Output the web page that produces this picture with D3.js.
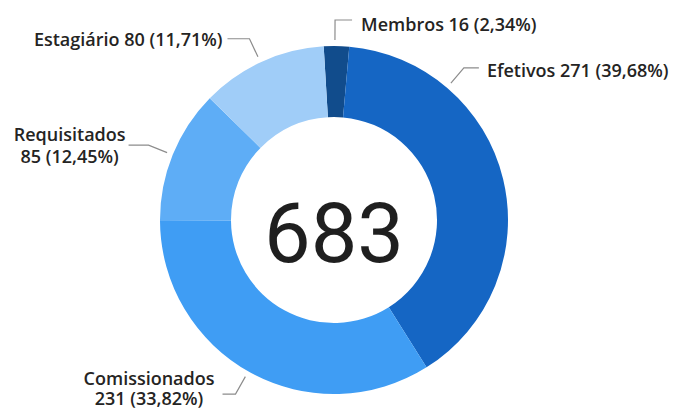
<!DOCTYPE html>
<html>
<head>
<meta charset="utf-8">
<script src="https://cdn.jsdelivr.net/npm/d3@7"></script>
<style>
  body { margin: 0; background: #fff; }
  .lbl { font-family: "Segoe UI", "Open Sans", sans-serif; font-weight: 600; font-size: 18px; fill: #252423; }
  .total { font-family: Roboto, sans-serif; font-weight: 400; font-size: 83px; fill: #1f1f1f; }
</style>
</head>
<body>
<svg id="chart" width="681" height="415"></svg>
<script>
// Data
var categories = ["Membros", "Efetivos", "Comissionados", "Requisitados", "Estagiário"];
var values = [16, 271, 231, 85, 80];
var colors = ["#114c8c", "#1566c4", "#3f9df4", "#5eadf6", "#a0cdf8"];

// Layout for the data labels (angle of the leader in degrees, side of the text)
var labelAngles = [0.3, 40.5, 209.5, 292, 335];
var labelSides = ["right", "right", "left", "left", "left"];
var labelTwoLines = [false, false, true, true, false];
var hookLength = [17, 15, 13, 20, 22];
var textGap = [9, 8, 8, 3, 5];
var lineOffsets = [[11], [9], [-9, 11], [-4, 18], [7]];

var width = 681, height = 415,
    cx = 334, cy = 220,
    outerR = 174, innerR = 103,
    startOffset = -3.4 * Math.PI / 180;

var svg = d3.select("#chart");
var g = svg.append("g").attr("transform", "translate(" + cx + "," + cy + ")");

var total = d3.sum(values);
var pctFmt = d3.format(".2f");
var pct = function(v) { return pctFmt(v / total * 100).replace(".", ",") + "%"; };

var pie = d3.pie()
    .sort(null)
    .startAngle(startOffset)
    .endAngle(startOffset + 2 * Math.PI);

var arc = d3.arc().innerRadius(innerR).outerRadius(outerR);

var arcs = pie(values);

g.selectAll("path.slice")
    .data(arcs)
    .enter()
    .append("path")
    .attr("class", "slice")
    .attr("d", arc)
    .attr("fill", function(d, i) { return colors[i]; });

// Center total
g.append("text")
    .attr("class", "total")
    .attr("x", 0)
    .attr("y", 42)
    .attr("text-anchor", "middle")
    .text(total);

// Leader lines and labels
var polar = function(deg, r) {
    var a = deg * Math.PI / 180;
    return [Math.sin(a) * r, -Math.cos(a) * r];
};

categories.forEach(function(cat, i) {
    var p0 = polar(labelAngles[i], outerR + 6),
        p1 = polar(labelAngles[i], outerR + 26),
        dir = labelSides[i] === "right" ? 1 : -1,
        p2 = [p1[0] + dir * hookLength[i], p1[1]];

    g.append("path")
        .attr("d", "M" + p0 + "L" + p1 + "L" + p2)
        .attr("fill", "none")
        .attr("stroke", "#8c8c8c")
        .attr("stroke-width", 1.2);

    var tx = p2[0] + dir * textGap[i];
    if (!labelTwoLines[i]) {
        g.append("text")
            .attr("class", "lbl")
            .attr("x", tx)
            .attr("y", p1[1] + lineOffsets[i][0])
            .attr("text-anchor", dir > 0 ? "start" : "end")
            .text(cat + " " + values[i] + " (" + pct(values[i]) + ")");
    } else {
        var t = g.append("text")
            .attr("class", "lbl")
            .attr("text-anchor", "middle");
        var l1 = t.append("tspan").attr("y", p1[1] + lineOffsets[i][0]).text(cat);
        var l2 = t.append("tspan").attr("y", p1[1] + lineOffsets[i][1]).text(values[i] + " (" + pct(values[i]) + ")");
        var w = Math.max(l1.node().getComputedTextLength(), l2.node().getComputedTextLength());
        var mx = tx + dir * w / 2;
        l1.attr("x", mx);
        l2.attr("x", mx);
    }
});
</script>
</body>
</html>
